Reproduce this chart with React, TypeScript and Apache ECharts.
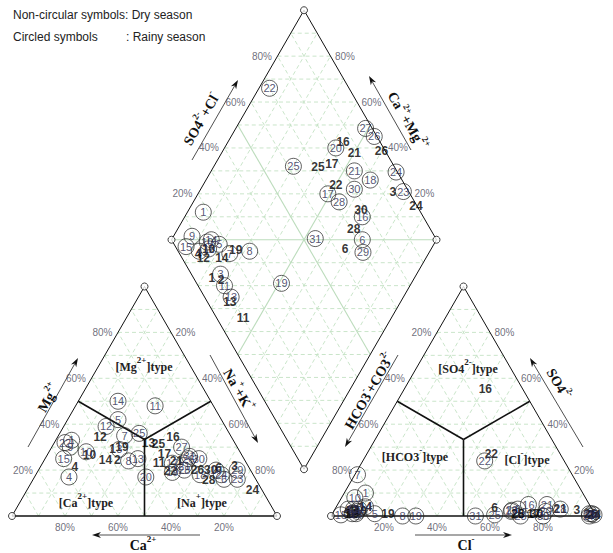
import React, { useEffect, useRef } from "react";
import * as echarts from "echarts";

// ---------- DATA (percent of meq/L) ----------
// Rainy season (circled symbols)
const rainyIds = [1, 3, 4, 5, 6, 7, 8, 9, 10, 11, 12, 13, 14, 15, 16, 17, 18, 19, 20, 21, 22, 23, 24, 25, 26, 27, 28, 29, 30, 31];
const rainyMg = [33, 29, 17, 42, 16, 35, 24, 30, 28, 48, 39, 25, 50, 25, 20, 23, 18, 19, 17, 22, 32, 16, 18, 36, 25, 30, 20, 20, 25, 26];
const rainyNaK = [6, 26, 13, 19, 72, 25, 32, 7, 14, 30, 16, 35, 15, 7, 67, 49, 62, 51, 42, 54, 4, 77, 70, 30, 54, 49, 55, 75, 58, 54];
const rainySO4 = [10, 2, 3, 1, 3, 18, 0, 1, 8, 3, 3, 1, 4, 0.5, 5, 2, 3, 0, 2, 5, 24, 1, 0.5, 0.5, 1, 0, 0, 2.5, 0, 0];
const rainyCl = [8, 9, 5, 16, 69, 1, 27, 7.5, 5, 7, 9, 9, 11, 3.5, 72, 67, 85, 32, 80, 79, 46, 97, 99, 61.5, 98, 97.5, 71.5, 67, 80, 54.5];

// Dry season (non-circular symbols)
const dryIds = [1, 2, 3, 4, 6, 10, 11, 12, 13, 14, 16, 17, 19, 21, 22, 24, 25, 26, 28, 30];
const dryMg = [29, 24.5, 22, 21.5, 21, 26.5, 23, 34.5, 32, 24.5, 34.5, 27, 30, 24, 19.5, 11.5, 31.5, 20, 15.5, 20];
const dryNaK = [23.5, 27.5, 73, 13, 67.5, 16, 44, 16, 35.5, 23, 43.5, 44, 26.5, 50, 50, 85, 39.5, 60, 66.5, 65];
const drySO4 = [1, 2, 2.5, 2, 3.5, 2, 2, 1, 1, 4, 55.5, 1, 1, 3, 27, 0.5, 1, 1, 1, 1];
const dryCl = [6, 8, 91.5, 5, 60, 10, 8, 7, 7.5, 11, 30.5, 76, 21, 85, 47, 99, 70, 97.5, 70, 77];

// Tick labels
const pctTicks = [20, 40, 60, 80];

// ---------- GEOMETRY (units: triangle side = 1) ----------
const UNIT = 265;
const GAP = 54 / 265;
const SQ = Math.sqrt(3) / 2;
const XMAX = 2 + GAP;
const YMAX = (2 + GAP) * SQ;
const BX = 1 + GAP / 2;
const BY = GAP * SQ;
const AOFF = 1 + GAP;

const cat = (mg: number, na: number) => [na + mg / 2, mg * SQ];
const ani = (so4: number, cl: number) => [AOFF + cl + so4 / 2, so4 * SQ];
const dia = (c: number, a: number) => [BX + (a - c) / 2, BY + (a + c) * SQ];

const NUMFONT = "'Liberation Sans', Arial, sans-serif";
const SERIF = "'Liberation Serif', 'Times New Roman', serif";

function buildPoints(ids: number[], mg: number[], na: number[], so4: number[], cl: number[]) {
  const out: any[] = [];
  ids.forEach((id, i) => {
    const M = mg[i] / 100, N = na[i] / 100, S = so4[i] / 100, C = cl[i] / 100;
    out.push({ name: String(id), value: cat(M, N) });
    out.push({ name: String(id), value: ani(S, C) });
    out.push({ name: String(id), value: dia(1 - N, S + C) });
  });
  return out;
}

function buildGrid() {
  const dashed: number[][] = [];
  for (let i = 1; i <= 9; i++) {
    const k = i / 10;
    for (const off of [0, AOFF]) {
      dashed.push([off + k / 2, k * SQ, off + 1 - k / 2, k * SQ]);
      dashed.push([off + k, 0, off + k + (1 - k) / 2, (1 - k) * SQ]);
      dashed.push([off + 1 - k, 0, off + (1 - k) / 2, (1 - k) * SQ]);
    }
    if (i !== 5) {
      dashed.push([...dia(k, 0), ...dia(k, 1)]);
      dashed.push([...dia(0, k), ...dia(1, k)]);
    }
  }
  for (let i = 1; i <= 19; i++) {
    if (i === 10) continue;
    const s = i / 10;
    const h = s <= 1 ? s : 2 - s;
    const y = BY + s * SQ;
    dashed.push([BX - h / 2, y, BX + h / 2, y]);
  }
  const solidGreen = [
    [...dia(0.5, 0), ...dia(0.5, 1)],
    [...dia(0, 0.5), ...dia(1, 0.5)],
    [...dia(1, 0), ...dia(0, 1)],
  ];
  const T1 = [0.5, SQ], T2 = [AOFF + 0.5, SQ];
  const outline = [
    [0, 0, 0.5, SQ], [1, 0, 0.5, SQ],
    [AOFF, 0, AOFF + 0.5, SQ], [AOFF + 1, 0, AOFF + 0.5, SQ],
    [...dia(0, 0), ...dia(1, 0)], [...dia(0, 0), ...dia(0, 1)],
    [...dia(1, 0), ...dia(1, 1)], [...dia(0, 1), ...dia(1, 1)],
  ];
  const base = [[0, 0, 1, 0], [AOFF, 0, AOFF + 1, 0]];
  const div: number[][] = [];
  for (const off of [0, AOFF]) {
    const cx = off + 0.5, cy = SQ / 3;
    div.push([off + 0.25, SQ / 2, cx, cy]);
    div.push([off + 0.75, SQ / 2, cx, cy]);
    div.push([off + 0.5, 0, cx, cy]);
  }
  const verts = [[0, 0], [1, 0], T1, [AOFF, 0], [AOFF + 1, 0], T2, dia(0, 0), dia(1, 0), dia(0, 1), dia(1, 1)];
  return { dashed, solidGreen, outline, base, div, verts };
}

const segSeries = (data: number[][], style: any, z: number) => ({
  type: "custom",
  coordinateSystem: "cartesian2d",
  silent: true,
  clip: false,
  z,
  data,
  encode: { x: [0, 2], y: [1, 3] },
  renderItem: (_p: any, api: any) => {
    const p1 = api.coord([api.value(0), api.value(1)]);
    const p2 = api.coord([api.value(2), api.value(3)]);
    return { type: "line", shape: { x1: p1[0], y1: p1[1], x2: p2[0], y2: p2[1] }, style: { fill: "none", ...style } };
  },
});

const pctSeries = (pts: number[][], labels: string[], position: string, distance: number) => ({
  type: "scatter",
  silent: true,
  symbolSize: 1,
  itemStyle: { color: "rgba(0,0,0,0)" },
  z: 3,
  data: pts.map((p, i) => ({ value: p, name: labels[i] })),
  label: { show: true, position, distance, formatter: "{b}", fontSize: 10, color: "#4a4a5a", fontFamily: NUMFONT },
});

function arrow(x1: number, y1: number, x2: number, y2: number, color: string, w: number, head = 9, hw = 3) {
  const dx = x2 - x1, dy = y2 - y1, L = Math.hypot(dx, dy), ux = dx / L, uy = dy / L;
  const bx = x2 - ux * head, by = y2 - uy * head;
  const nx = x2 - ux * head * 0.7, ny = y2 - uy * head * 0.7;
  return [
    { type: "line", silent: true, shape: { x1, y1, x2: nx, y2: ny }, style: { stroke: color, lineWidth: w } },
    {
      type: "polygon", silent: true,
      shape: { points: [[x2, y2], [bx - uy * hw, by + ux * hw], [nx, ny], [bx + uy * hw, by - ux * hw]] },
      style: { fill: "#111" },
    },
  ];
}

const richTitle = {
  b: { fontSize: 14, fontWeight: "bold", fontFamily: SERIF, fill: "#111", color: "#111", verticalAlign: "bottom", lineHeight: 18 },
  s: { fontSize: 9, fontWeight: "bold", fontFamily: SERIF, fill: "#111", color: "#111", verticalAlign: "top", lineHeight: 18 },
};
const richType = {
  b: { fontSize: 12, fontWeight: "bold", fontFamily: SERIF, fill: "#222", color: "#222", verticalAlign: "bottom", lineHeight: 17 },
  s: { fontSize: 9, fontWeight: "bold", fontFamily: SERIF, fill: "#222", color: "#222", verticalAlign: "top", lineHeight: 17 },
};

const rtext = (x: number, y: number, rot: number, text: string, rich: any) => ({
  type: "text", x, y, rotation: rot, silent: true, z: 10,
  style: { text, rich, align: "center", verticalAlign: "middle", textAlign: "center", textVerticalAlign: "middle" },
});

export default function App() {
  const ref = useRef<HTMLDivElement>(null);
  useEffect(() => {
    document.body.style.margin = "0";
    if (!ref.current) return;
    const chart = echarts.init(ref.current, undefined, { renderer: "svg" });
    const g = buildGrid();

    const pctLabels = pctTicks.map((t) => t + "%");
    const catBottom = pctTicks.map((k) => [1 - k / 100, 0]);
    const catLeft = pctTicks.map((k) => cat(k / 100, 0));
    const catRight = pctTicks.map((k) => cat(1 - k / 100, k / 100));
    const aniBottom = pctTicks.map((k) => ani(0, k / 100));
    const aniLeft = pctTicks.map((k) => ani(1 - k / 100, 0));
    const aniRight = pctTicks.map((k) => ani(k / 100, 1 - k / 100));
    const diaLeft = pctTicks.map((k) => dia(1, k / 100));
    const diaRight = pctTicks.map((k) => dia(k / 100, 1));

    const T = Math.PI / 3;
    const graphics: any[] = [
      { type: "text", x: 13, y: 15, silent: true, style: { text: "Non-circular symbols: Dry season", fontSize: 12, fontFamily: NUMFONT, fill: "#222", verticalAlign: "middle", textVerticalAlign: "middle" } },
      { type: "text", x: 13, y: 37, silent: true, style: { text: "Circled symbols", fontSize: 12, fontFamily: NUMFONT, fill: "#222", verticalAlign: "middle", textVerticalAlign: "middle" } },
      { type: "text", x: 126, y: 37, silent: true, style: { text: ": Rainy season", fontSize: 12, fontFamily: NUMFONT, fill: "#222", verticalAlign: "middle", textVerticalAlign: "middle" } },
      rtext(143, 543, 0, "{b|Ca}{s|2+}", richTitle),
      rtext(466, 543, 0, "{b|Cl}{s|-}", richTitle),
      rtext(47, 397, T, "{b|Mg}{s|2+}", richTitle),
      rtext(240, 389, -T, "{b|Na}{s|+}{b|+K}{s|+}", richTitle),
      rtext(200, 118, T, "{b|SO4}{s|2-}{b|+Cl}{s|-}", richTitle),
      rtext(409, 120, -T, "{b|Ca}{s|2+}{b|+Mg}{s|2+}", richTitle),
      rtext(368, 390, T, "{b|HCO3}{s|-}{b|+CO3}{s|2-}", richTitle),
      rtext(560, 383, -T, "{b|SO4}{s|2-}", richTitle),
      rtext(144, 364, 0, "{b|[Mg}{s|2+}{b|]type}", richType),
      rtext(86, 500, 0, "{b|[Ca}{s|2+}{b|]type}", richType),
      rtext(202, 500, 0, "{b|[Na}{s|+}{b|]type}", richType),
      rtext(468, 366, 0, "{b|[SO4}{s|2-}{b|]type}", richType),
      rtext(415, 454, 0, "{b|[HCO3}{s|-}{b|]type}", richType),
      rtext(527, 457, 0, "{b|[Cl}{s|-}{b|]type}", richType),
      ...arrow(28, 447, 78, 358, "#222", 0.8),
      ...arrow(210, 355, 258, 443, "#222", 0.8),
      ...arrow(200, 535, 92, 535, "#8a8a8a", 1.6),
      ...arrow(192, 160, 238, 80, "#222", 0.8),
      ...arrow(411, 150, 369, 76, "#222", 0.8),
      ...arrow(398, 355, 345, 447, "#222", 0.8),
      ...arrow(583, 447, 530, 358, "#222", 0.8),
      ...arrow(415, 535, 512, 535, "#8a8a8a", 1.6),
    ];

    chart.setOption({
      animation: false,
      backgroundColor: "#ffffff",
      grid: { left: 12, top: 516 - YMAX * UNIT, width: XMAX * UNIT, height: YMAX * UNIT, containLabel: false },
      xAxis: { type: "value", min: 0, max: XMAX, show: false },
      yAxis: { type: "value", min: 0, max: YMAX, show: false },
      graphic: graphics,
      series: [
        segSeries(g.dashed, { stroke: "#c4e2c4", lineWidth: 0.9, lineDash: [4, 3] }, 1),
        segSeries(g.solidGreen, { stroke: "#bcdcbc", lineWidth: 1.1 }, 1),
        segSeries(g.outline, { stroke: "#111", lineWidth: 1 }, 2),
        segSeries(g.base, { stroke: "#111", lineWidth: 1.7 }, 2),
        segSeries(g.div, { stroke: "#111", lineWidth: 1.6 }, 2),
        {
          type: "scatter", silent: true, z: 4, symbol: "circle", symbolSize: 7,
          itemStyle: { color: "#fff", borderColor: "#111", borderWidth: 1 },
          data: g.verts,
        },
        pctSeries(catBottom, pctLabels, "bottom", 6),
        pctSeries(catLeft, pctLabels, "left", 5),
        pctSeries(catRight, pctLabels, "right", 4),
        pctSeries(aniBottom, pctLabels, "bottom", 6),
        pctSeries(aniLeft, pctLabels, "left", 5),
        pctSeries(aniRight, pctLabels, "right", 4),
        pctSeries(diaLeft, pctLabels, "left", 5),
        pctSeries(diaRight, pctLabels, "right", 4),
        {
          type: "scatter", name: "Dry season", silent: true, z: 5,
          symbol: "circle", symbolSize: 1, itemStyle: { color: "rgba(0,0,0,0)" },
          data: buildPoints(dryIds, dryMg, dryNaK, drySO4, dryCl),
          label: { show: true, position: "inside", formatter: "{b}", fontSize: 12, fontWeight: "bold", color: "#000", fontFamily: NUMFONT },
        },
        {
          type: "scatter", name: "Rainy season", silent: true, z: 6,
          symbol: "circle", symbolSize: 16,
          itemStyle: { color: "rgba(0,0,0,0)", borderColor: "#222", borderWidth: 0.9 },
          data: buildPoints(rainyIds, rainyMg, rainyNaK, rainySO4, rainyCl),
          label: { show: true, position: "inside", formatter: "{b}", fontSize: 11, color: "#2a2a50", fontFamily: NUMFONT },
        },
      ],
    });
    return () => chart.dispose();
  }, []);
  return <div ref={ref} style={{ width: 613, height: 553 }} />;
}
